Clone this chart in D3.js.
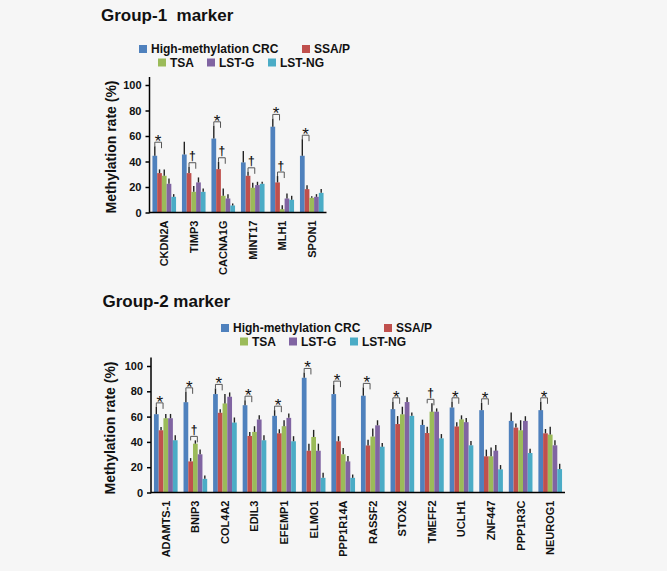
<!DOCTYPE html>
<html>
<head>
<meta charset="utf-8">
<script src="https://cdn.jsdelivr.net/npm/d3@7"></script>
<style>
  html, body { margin: 0; padding: 0; background: #f6f6f6; }
  text { font-family: "Liberation Sans", Arial, sans-serif; font-weight: bold; }
</style>
</head>
<body>
<script>
// ---------- DATA ----------
const seriesNames = ["High-methylation CRC", "SSA/P", "TSA", "LST-G", "LST-NG"];
const seriesColors = ["#4F81BD", "#C0504D", "#9BBB59", "#8064A2", "#4BACC6"];
const yTicks = [0, 20, 40, 60, 80, 100];

// Group-1
const categories1 = ["CKDN2A", "TIMP3", "CACNA1G", "MINT17", "MLH1", "SPON1"];
const crc1   = [44.5, 45.5, 58.0, 39.3, 67.3, 44.5];
const ssap1  = [30.9, 30.9, 34.0, 28.8, 23.6, 18.3];
const tsa1   = [28.8, 16.2, 13.1, 19.4, 2.6, 11.5];
const lstg1  = [22.5, 23.6, 11.0, 21.5, 11.0, 12.3];
const lstng1 = [12.3, 16.2, 5.5, 22.5, 10.0, 15.4];
const errCrc1   = [7.5, 10.0, 10.0, 8.9, 6.5, 13.0];
const errSsap1  = [2.9, 5.0, 5.8, 3.1, 5.0, 3.1];
const errTsa1   = [5.0, 4.5, 5.8, 3.9, 3.1, 1.3];
const errLstg1  = [4.2, 3.9, 3.4, 2.6, 3.9, 2.1];
const errLstng1 = [2.1, 2.6, 1.6, 1.6, 3.1, 3.1];
const stars1   = ["CKDN2A", "CACNA1G", "MLH1", "SPON1"];
const daggers1 = ["TIMP3", "CACNA1G", "MINT17", "MLH1"];

// Group-2
const categories2 = ["ADAMTS-1", "BNIP3", "COL4A2", "EDIL3", "EFEMP1", "ELMO1", "PPP1R14A",
                     "RASSF2", "STOX2", "TMEFF2", "UCLH1", "ZNF447", "PPP1R3C", "NEUROG1"];
const crc2   = [61.9, 71.4, 77.8, 69.0, 60.6, 90.7, 77.8, 76.5, 65.9, 53.4, 67.2, 65.1, 56.6, 65.1];
const ssap2  = [49.2, 24.6, 63.0, 44.7, 46.8, 33.0, 40.5, 37.2, 54.1, 47.0, 52.2, 28.6, 51.3, 46.8];
const tsa2   = [58.7, 38.6, 70.4, 47.9, 52.4, 43.9, 30.2, 44.2, 61.8, 63.9, 57.8, 28.6, 49.2, 45.8];
const lstg2  = [58.7, 30.2, 75.7, 57.7, 59.0, 33.0, 24.6, 53.1, 71.5, 63.9, 55.6, 33.1, 56.6, 37.3];
const lstng2 = [41.3, 10.8, 55.3, 41.3, 40.5, 11.6, 11.6, 36.2, 60.6, 42.8, 37.3, 18.3, 31.2, 18.5];
const errCrc2   = [5.8, 8.2, 4.5, 4.0, 4.5, 4.2, 7.1, 6.6, 5.8, 4.2, 4.5, 5.8, 6.6, 6.6];
const errSsap2  = [2.6, 2.6, 2.9, 3.2, 3.2, 5.6, 4.0, 4.5, 6.3, 5.0, 3.4, 5.3, 3.2, 3.4];
const errTsa2   = [3.4, 2.6, 7.4, 4.5, 4.8, 5.6, 5.0, 6.3, 6.0, 6.6, 3.2, 6.9, 7.9, 6.1];
const errLstg2  = [3.4, 3.7, 3.4, 3.4, 3.4, 5.6, 4.2, 4.0, 3.7, 2.6, 3.2, 4.5, 3.7, 4.0];
const errLstng2 = [4.0, 2.6, 4.0, 4.0, 4.0, 4.0, 2.6, 2.9, 2.6, 3.4, 3.4, 3.4, 3.4, 4.2];
const stars2   = ["ADAMTS-1", "BNIP3", "COL4A2", "EDIL3", "EFEMP1", "ELMO1", "PPP1R14A",
                  "RASSF2", "STOX2", "UCLH1", "ZNF447", "NEUROG1"];
const daggers2 = ["BNIP3", "TMEFF2"];

// ---------- DRAW ----------
const svg = d3.select("body").append("svg")
  .attr("width", 667).attr("height", 571);

function drawPanel(o) {
  const g = svg.append("g");

  // title
  g.append("text")
    .attr("x", o.titleX).attr("y", o.titleY)
    .style("font-size", "17px").style("white-space", "pre")
    .attr("fill", "#111")
    .text(o.title);

  // legend
  const legendRows = [
    { y: 0,    items: [[0, 0], [1, 163]] },
    { y: 13.5, items: [[2, 19], [3, 68], [4, 129]] }
  ];
  legendRows.forEach(row => {
    row.items.forEach(([si, dx]) => {
      const lx = o.legendX + dx, ly = o.legendY + row.y;
      g.append("rect").attr("x", lx).attr("y", ly).attr("width", 8).attr("height", 8)
        .attr("fill", seriesColors[si]);
      g.append("text").attr("x", lx + 12).attr("y", ly + 8.3)
        .style("font-size", "12px").attr("fill", "#111")
        .text(seriesNames[si]);
    });
  });

  const x = d3.scaleBand().domain(o.cats).range([o.axisX, o.axisRight])
    .paddingInner(0.2).paddingOuter(0.1);
  const xs = d3.scaleBand().domain(d3.range(seriesNames.length)).range([0, x.bandwidth()]);
  const y = d3.scaleLinear().domain([0, 100]).range([o.y0, o.y100]);

  // bars
  const rows = o.cats.map((c, i) => ({
    cat: c,
    vals: o.vals.map((arr, si) => ({ si, v: arr[i], e: o.errs[si][i] }))
  }));
  const grp = g.selectAll(".cat").data(rows).join("g")
    .attr("transform", d => `translate(${x(d.cat)},0)`);
  grp.selectAll("rect").data(d => d.vals).join("rect")
    .attr("x", d => xs(d.si)).attr("width", xs.bandwidth())
    .attr("y", d => y(d.v)).attr("height", d => y(0) - y(d.v))
    .attr("fill", d => seriesColors[d.si]);
  // error bars
  grp.selectAll("line.err").data(d => d.vals).join("line")
    .attr("class", "err")
    .attr("x1", d => xs(d.si) + xs.bandwidth() / 2)
    .attr("x2", d => xs(d.si) + xs.bandwidth() / 2)
    .attr("y1", d => y(d.v)).attr("y2", d => y(d.v + d.e))
    .attr("stroke", "#222").attr("stroke-width", 1.4);

  // significance markers
  function mark(list, a, b, sym, size, base, weight) {
    list.forEach(cat => {
      const i = o.cats.indexOf(cat);
      const top = Math.max(o.vals[a][i] + o.errs[a][i], o.vals[b][i] + o.errs[b][i]);
      const by = y(top) - 4;
      const x1 = x(cat) + xs(a) + xs.bandwidth() / 2;
      const x2 = x(cat) + xs(b) + xs.bandwidth() / 2 + 2;
      g.append("path")
        .attr("d", `M${x1},${by + 4}V${by}H${x2}V${by + 6}`)
        .attr("fill", "none").attr("stroke", "#555").attr("stroke-width", 1);
      g.append("text").attr("x", (x1 + x2) / 2).attr("y", by + base)
        .attr("text-anchor", "middle").style("font-size", size + "px")
        .style("font-weight", weight)
        .attr("fill", "#111").text(sym);
    });
  }
  mark(o.stars, 0, 1, "*", 17, 5, "normal");
  mark(o.daggers, 1, 2, "†", 12, -2.5, "bold");

  // y axis
  const yAxis = d3.axisLeft(y).tickValues(yTicks).tickSize(4).tickPadding(4).tickSizeOuter(0);
  const ya = g.append("g").attr("transform", `translate(${o.axisX},0)`).call(yAxis);
  ya.select(".domain").remove();
  ya.selectAll(".tick line").attr("stroke", "#000").attr("stroke-width", 1.5);
  ya.selectAll(".tick text").style("font-size", "11px").style("font-family", "Liberation Sans, Arial, sans-serif")
    .style("font-weight", "bold").attr("fill", "#111");
  g.append("line").attr("x1", o.axisX).attr("x2", o.axisX)
    .attr("y1", o.y0 + 0.75).attr("y2", o.yTop)
    .attr("stroke", "#000").attr("stroke-width", 1.5);

  // x axis
  g.append("line").attr("x1", o.axisX).attr("x2", o.axisRight)
    .attr("y1", o.y0).attr("y2", o.y0)
    .attr("stroke", "#000").attr("stroke-width", 1.5);
  const xa = d3.axisBottom(x).tickSize(0).tickPadding(0);
  const xg = g.append("g").attr("transform", `translate(0,${o.y0})`).call(xa);
  xg.select(".domain").remove();
  xg.selectAll(".tick text")
    .attr("transform", "rotate(-90)")
    .attr("x", -8).attr("y", 0).attr("dy", "0.36em")
    .attr("text-anchor", "end")
    .style("font-size", "11px").style("font-family", "Liberation Sans, Arial, sans-serif")
    .style("font-weight", "bold").attr("fill", "#111");

  // y label
  g.append("text")
    .attr("transform", `translate(${o.labelX},${o.labelY}) rotate(-90)`)
    .attr("text-anchor", "middle").attr("dy", "0.36em")
    .style("font-size", "14px").attr("fill", "#111")
    .text("Methylation rate (%)");
}

drawPanel({
  title: "Group-1  marker", titleX: 101, titleY: 21,
  legendX: 139, legendY: 45,
  cats: categories1,
  vals: [crc1, ssap1, tsa1, lstg1, lstng1],
  errs: [errCrc1, errSsap1, errTsa1, errLstg1, errLstng1],
  stars: stars1, daggers: daggers1,
  axisX: 149.5, axisRight: 326.5, y0: 212.5, y100: 85, yTop: 77,
  labelX: 110.5, labelY: 147
});

drawPanel({
  title: "Group-2 marker", titleX: 102.5, titleY: 306.5,
  legendX: 221, legendY: 324,
  cats: categories2,
  vals: [crc2, ssap2, tsa2, lstg2, lstng2],
  errs: [errCrc2, errSsap2, errTsa2, errLstg2, errLstng2],
  stars: stars2, daggers: daggers2,
  axisX: 151, axisRight: 565, y0: 492.5, y100: 366, yTop: 357.5,
  labelX: 109.5, labelY: 428
});
</script>
</body>
</html>
